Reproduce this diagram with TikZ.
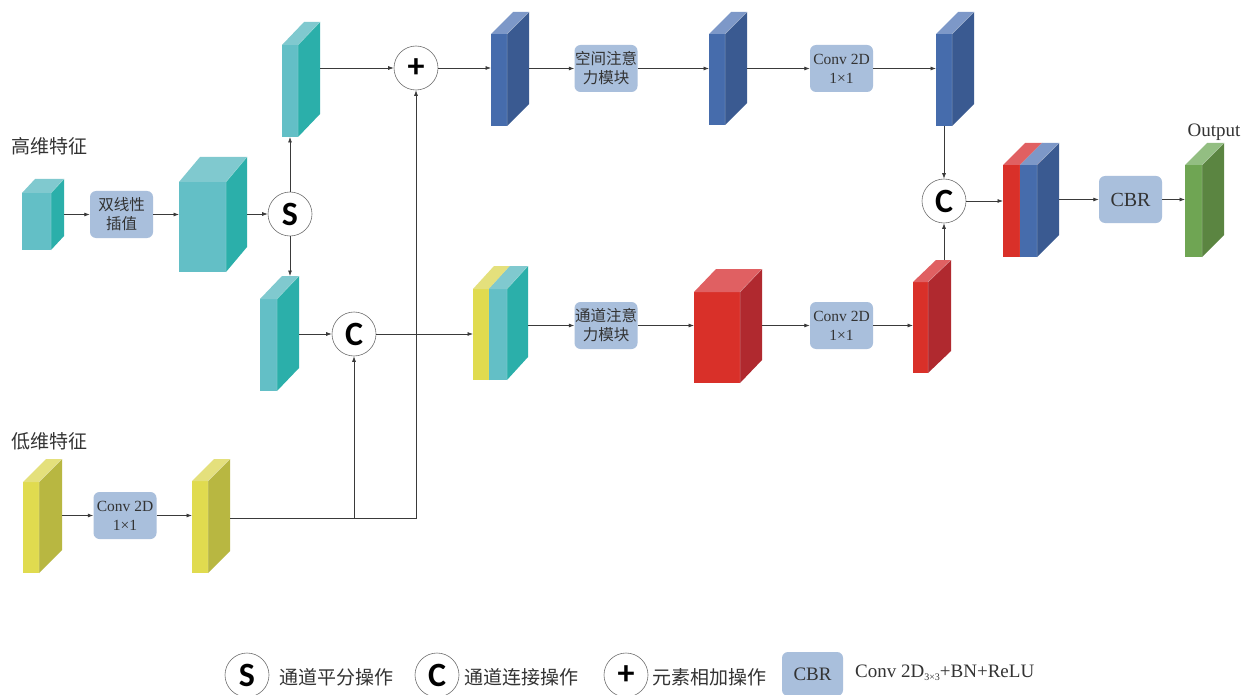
\documentclass[tikz,border=0pt]{standalone}
\usepackage{fontspec}
\setmainfont{Liberation Serif}
\newfontfamily\cjk{Noto Sans CJK SC}
\newfontfamily\opfont{Carlito}
\usetikzlibrary{arrows.meta,fit}
\definecolor{tealF}{HTML}{63BFC6}
\definecolor{tealT}{HTML}{80C9CF}
\definecolor{tealS}{HTML}{2BAFAA}
\definecolor{yelF}{HTML}{E0DB4F}
\definecolor{yelT}{HTML}{E4E07C}
\definecolor{yelS}{HTML}{B8B741}
\definecolor{bluF}{HTML}{466CAC}
\definecolor{bluT}{HTML}{7D98C8}
\definecolor{bluS}{HTML}{3A5A91}
\definecolor{redF}{HTML}{D93029}
\definecolor{redT}{HTML}{E06062}
\definecolor{redS}{HTML}{B0292F}
\definecolor{grnF}{HTML}{6FA553}
\definecolor{grnT}{HTML}{93BE82}
\definecolor{grnS}{HTML}{5B8541}
\definecolor{boxF}{HTML}{A9BFDC}
\definecolor{lineC}{HTML}{3A3A3A}
\definecolor{circC}{HTML}{707070}
\definecolor{txtC}{HTML}{333333}
\newcommand\cubeface[7]{%
 \fill[#7F] (#1,#2) rectangle ++(#3,#4);
 \fill[#7T] (#1,#2) -- ++(#5,-#6) -- ++(#3,0) -- ++(-#5,#6) -- cycle;
 \fill[#7S] ({#1+#3},#2) -- ++(#5,-#6) -- ++(0,#4) -- ++(-#5,#6) -- cycle;
 \draw[white,opacity=0.35,line width=0.5pt] ({#1+#3},{#2+#4}) -- ({#1+#3},#2) -- ++(#5,-#6);
}
\newcommand\cube[8]{\cubeface{#2}{#3}{#4}{#5}{#6}{#7}{#8}%
 \node[inner sep=0pt,outer sep=0pt,fit={(#2,{#3-#7}) ({#2+#4+#6},{#3+#5})}] (#1) {};}
\tikzset{
 arr/.style={draw=lineC, line width=0.7pt, -{Latex[length=5.5pt,width=4pt]}},
 op/.style={circle, draw=circC, line width=0.6pt, fill=white, minimum size=44pt, inner sep=0pt, font=\opfont\bfseries\fontsize{34}{34}\selectfont},
 blk/.style={rounded corners=6pt, fill=boxF, minimum width=63pt, minimum height=47pt, inner sep=0pt, align=center, text=txtC},
 cjkbox/.style={blk, font=\cjk\fontsize{15.5}{19}\selectfont},
 latbox/.style={blk, font=\fontsize{15.5}{19}\selectfont},
 lab/.style={font=\cjk\fontsize{19}{21}\selectfont, text=txtC, inner sep=0pt},
 leg/.style={font=\cjk\fontsize{19}{21}\selectfont, text=txtC, inner sep=0pt, anchor=west},
}
\begin{document}
\begin{tikzpicture}[x=1pt,y=-1pt]
\useasboundingbox (0,0) rectangle (1252,695);
\fill[white] (0,0) rectangle (1252,695);
% cuboids
\cube{t1}{22}{193}{29}{57}{13}{14}{teal}
\cube{t2}{179}{182}{47}{90}{21}{25}{teal}
\cube{t3}{282}{45}{16}{92}{22}{23}{teal}
\cube{t4}{260}{299}{17}{92}{22}{23}{teal}
\cube{y1}{23}{482}{16}{91}{23}{23}{yel}
\cube{y2}{192}{481}{16}{92}{22}{22}{yel}
\cubeface{473}{289}{16}{91}{21}{23}{yel}
\cubeface{489}{289}{18}{91}{21}{23}{teal}
\node[fit={(473,266) (528,380)},inner sep=0pt,outer sep=0pt] (s1) {};
\cube{b1}{491}{34}{16}{92}{22}{22}{blu}
\cube{b2}{709}{34}{16}{91}{22}{22}{blu}
\cube{b3}{936}{34}{16}{92}{22}{22}{blu}
\cube{r1}{694}{292}{46}{91}{22}{23}{red}
\cube{r2}{913}{282}{15}{91}{23}{22}{red}
\cubeface{1003}{165}{17}{92}{22}{22}{red}
\cubeface{1020}{165}{17}{92}{22}{22}{blu}
\node[fit={(1003,143) (1059,257)},inner sep=0pt,outer sep=0pt] (s2) {};
\cube{gr}{1185}{165}{17}{92}{22}{22}{grn}
% boxes
\node[cjkbox] (bil) at (121.5,214.5) {双线性\\插值};
\node[latbox] (cv1) at (125,515.5) {Conv 2D\\1×1};
\node[cjkbox] (sa) at (606,68.5) {空间注意\\力模块};
\node[latbox] (cv2) at (841.5,68.5) {Conv 2D\\1×1};
\node[cjkbox] (ca) at (606,325.5) {通道注意\\力模块};
\node[latbox] (cv3) at (841.5,325.5) {Conv 2D\\1×1};
\node[blk, font=\fontsize{20}{22}\selectfont] (cbr) at (1130.5,199.5) {CBR};
% operators
\node[op] (S) at (290,214) {S};
\node[op] (P) at (416,68) {+};
\node[op] (C1) at (354,334) {C};
\node[op] (C2) at (944,201) {C};
% labels
\node[lab] (hi) at (49,146) {高维特征};
\node[lab] (lo) at (49,441) {低维特征};
\node[font=\fontsize{19}{21}\selectfont, text=txtC, inner sep=0pt] (out) at (1214,132) {Output};
% connectors
\draw[arr] (t1.east) -- (bil.west |- t1.east);
\draw[arr] (bil.east) -- (t2.west |- bil.east);
\draw[arr] (t2.east |- S) -- (S.west);
\draw[arr] (S.north) -- (S.north |- t3.south);
\draw[arr] (S.south) -- (S.south |- t4.north);
\draw[arr] (t3.east |- P) -- (P.west);
\draw[arr] (P.east) -- (P.east -| b1.west);
\draw[arr] (b1.east |- sa) -- (sa.west);
\draw[arr] (sa.east) -- (sa.east -| b2.west);
\draw[arr] (b2.east |- cv2) -- (cv2.west);
\draw[arr] (cv2.east) -- (cv2.east -| b3.west);
\draw[arr] (C2.north |- b3.south) -- (C2.north);
\draw[arr] (C2.south |- r2.north) -- (C2.south);
\draw[arr] (C2.east) -- (C2.east -| s2.west);
\draw[arr] (s2.east |- cbr) -- (cbr.west);
\draw[arr] (cbr.east) -- (cbr.east -| gr.west);
\draw[arr] (t4.east |- C1) -- (C1.west);
\draw[arr] (C1.east) -- (C1.east -| s1.west);
\draw[arr] (s1.east |- ca) -- (ca.west);
\draw[arr] (ca.east) -- (ca.east -| r1.west);
\draw[arr] (r1.east |- cv3) -- (cv3.west);
\draw[arr] (cv3.east) -- (cv3.east -| r2.west);
\draw[arr] (y1.east |- cv1) -- (cv1.west);
\draw[arr] (cv1.east) -- (cv1.east -| y2.west);
\coordinate (j1) at (354,518);
\coordinate (j2) at (416,518);
\draw[arr] (y2.east |- j2) -- (j2) -- (P.south);
\draw[arr] (j1) -- (C1.south);
% legend
\node[op] (LS) at (247,675) {S};
\node[leg] (LSt) at (279,677) {通道平分操作};
\node[op] (LC) at (437,675) {C};
\node[leg] (LCt) at (464,677) {通道连接操作};
\node[op] (LP) at (626,675) {+};
\node[leg] (LPt) at (652,677) {元素相加操作};
\node[blk, minimum width=61pt, minimum height=44pt, font=\fontsize{19}{21}\selectfont] (LB) at (812.5,674) {CBR};
\node[anchor=west, inner sep=0pt, font=\fontsize{19}{21}\selectfont, text=txtC] (LBt) at (855,673) {Conv 2D\raisebox{-3pt}{\fontsize{10}{10}\selectfont 3×3}+BN+ReLU};
\end{tikzpicture}
\end{document}
